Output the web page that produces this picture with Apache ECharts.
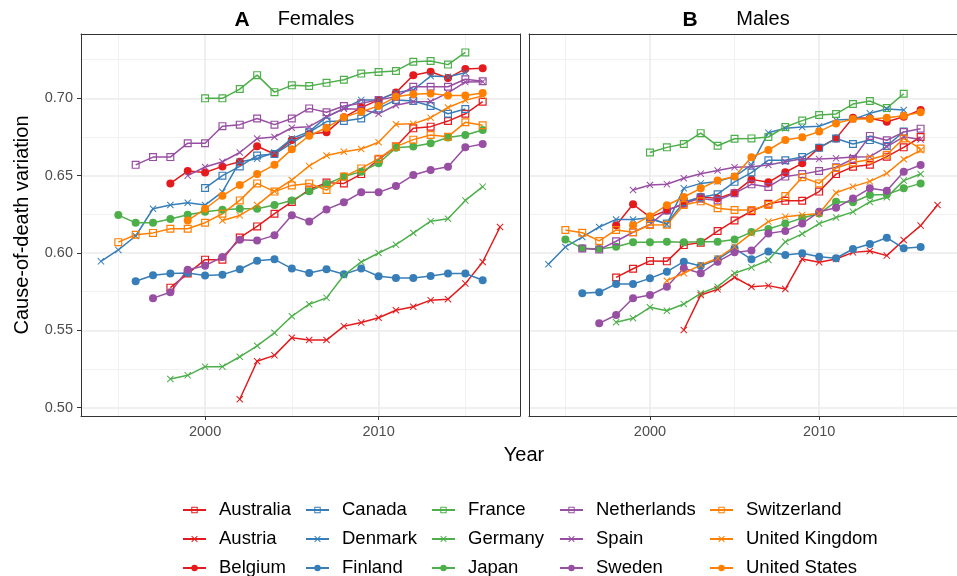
<!DOCTYPE html>
<html><head><meta charset="utf-8">
<script src="https://cdn.jsdelivr.net/npm/echarts@6/dist/echarts.min.js"></script>
<style>html,body{margin:0;padding:0;background:#fff}#c{width:957px;height:576px}</style>
</head><body><div id="c"></div>
<script>
const countries = ['Australia','Austria','Belgium','Canada','Denmark','Finland','France','Germany','Japan','Netherlands','Spain','Sweden','Switzerland','United Kingdom','United States'];
const startYear = [1998, 2002, 1998, 2000, 1994, 1996, 2000, 1998, 1995, 1996, 1999, 1997, 1995, 2001, 1999];
const xTicks = [2000, 2010];
const xMinorTicks = [1995, 2005, 2015];
const yTicks = [0.50, 0.55, 0.60, 0.65, 0.70];
const yMinorTicks = [0.525, 0.575, 0.625, 0.675, 0.725];

// Females (panel A)
const femaleAustralia = [0.5776, 0.5867, 0.5957, 0.5957, 0.610, 0.6172, 0.6254, 0.633, 0.641, 0.6455, 0.645, 0.651, 0.6606, 0.6688, 0.6806, 0.6817, 0.6853, 0.690, 0.6978];
const femaleAustria = [0.5054, 0.530, 0.5338, 0.5452, 0.5437, 0.5437, 0.5527, 0.555, 0.5581, 0.563, 0.5652, 0.5695, 0.5701, 0.5802, 0.5942, 0.6168];
const femaleBelgium = [0.645, 0.653, 0.652, 0.656, 0.659, 0.669, 0.664, 0.673, 0.677, 0.678, 0.6877, 0.694, 0.699, 0.7037, 0.7149, 0.7172, 0.7131, 0.719, 0.7194];
const femaleCanada = [0.642, 0.650, 0.656, 0.663, 0.664, 0.671, 0.678, 0.685, 0.6853, 0.687, 0.6935, 0.699, 0.6983, 0.695, 0.690, 0.6931];
const femaleDenmark = [0.5946, 0.602, 0.611, 0.6286, 0.631, 0.6325, 0.631, 0.6395, 0.659, 0.661, 0.665, 0.674, 0.6785, 0.688, 0.6935, 0.699, 0.699, 0.7037, 0.7054, 0.7144, 0.714, 0.7166];
const femaleFinland = [0.5817, 0.5856, 0.5867, 0.5871, 0.5854, 0.586, 0.5895, 0.595, 0.5959, 0.5899, 0.5871, 0.5895, 0.5862, 0.5899, 0.585, 0.5839, 0.5839, 0.5852, 0.5867, 0.5867, 0.5824];
const femaleFrance = [0.700, 0.700, 0.706, 0.715, 0.704, 0.7084, 0.708, 0.710, 0.712, 0.716, 0.717, 0.7177, 0.7237, 0.7241, 0.7218, 0.7297];
const femaleGermany = [0.5185, 0.5209, 0.5265, 0.5265, 0.5329, 0.540, 0.5484, 0.5591, 0.5669, 0.571, 0.5856, 0.5942, 0.600, 0.6054, 0.6129, 0.6206, 0.6221, 0.634, 0.6429];
const femaleJapan = [0.6245, 0.6195, 0.6195, 0.622, 0.6247, 0.6266, 0.628, 0.6286, 0.6286, 0.631, 0.634, 0.640, 0.6446, 0.6494, 0.6526, 0.658, 0.668, 0.6688, 0.671, 0.6747, 0.6763, 0.6795];
const femaleNetherlands = [0.657, 0.662, 0.662, 0.671, 0.671, 0.682, 0.683, 0.687, 0.683, 0.687, 0.6935, 0.691, 0.695, 0.6968, 0.699, 0.701, 0.7075, 0.7075, 0.7075, 0.7123, 0.711];
const femaleSpain = [0.650, 0.6556, 0.659, 0.665, 0.674, 0.675, 0.681, 0.6817, 0.688, 0.6933, 0.693, 0.690, 0.6955, 0.6978, 0.698, 0.7035, 0.7105, 0.7108];
const femaleSweden = [0.5708, 0.5746, 0.5892, 0.5918, 0.5974, 0.6086, 0.608, 0.6114, 0.6244, 0.6203, 0.6282, 0.6328, 0.6392, 0.6392, 0.6433, 0.6504, 0.6537, 0.6558, 0.6683, 0.6705];
const femaleSwitzerland = [0.607, 0.6118, 0.613, 0.6157, 0.6157, 0.6196, 0.6254, 0.634, 0.645, 0.6397, 0.6437, 0.645, 0.6407, 0.6494, 0.6547, 0.661, 0.6688, 0.6733, 0.6763, 0.6752, 0.6845, 0.6826];
const femaleUK = [0.621, 0.6243, 0.631, 0.640, 0.6472, 0.6563, 0.663, 0.6655, 0.6672, 0.6716, 0.6832, 0.6835, 0.6875, 0.6941, 0.6987, 0.7016];
const femaleUS = [0.621, 0.6286, 0.637, 0.644, 0.651, 0.657, 0.667, 0.6758, 0.681, 0.6877, 0.6914, 0.695, 0.701, 0.7027, 0.7032, 0.7018, 0.7018, 0.7035];

// Males (panel B)
const maleAustralia = [0.5842, 0.5898, 0.5949, 0.5946, 0.6051, 0.6067, 0.6142, 0.621, 0.627, 0.6318, 0.6337, 0.6338, 0.6397, 0.651, 0.6558, 0.6571, 0.6623, 0.6683, 0.675];
const maleAustria = [0.5502, 0.5728, 0.5765, 0.5843, 0.5782, 0.5789, 0.5767, 0.5961, 0.594, 0.5961, 0.6004, 0.6013, 0.5983, 0.6084, 0.6177, 0.631];
const maleBelgium = [0.618, 0.6315, 0.6232, 0.6275, 0.6318, 0.6364, 0.6353, 0.639, 0.6476, 0.6457, 0.6522, 0.658, 0.6681, 0.6741, 0.6875, 0.6871, 0.6849, 0.6881, 0.6925];
const maleCanada = [0.622, 0.619, 0.633, 0.636, 0.638, 0.646, 0.652, 0.660, 0.660, 0.662, 0.668, 0.674, 0.6705, 0.673, 0.6692, 0.6785];
const maleDenmark = [0.5927, 0.6039, 0.6103, 0.6168, 0.6217, 0.6217, 0.6228, 0.6185, 0.6418, 0.645, 0.6463, 0.6494, 0.657, 0.6778, 0.6806, 0.6815, 0.682, 0.686, 0.6864, 0.6903, 0.6931, 0.6925];
const maleFinland = [0.5739, 0.5746, 0.58, 0.58, 0.5836, 0.5879, 0.5944, 0.5916, 0.5959, 0.603, 0.5959, 0.6009, 0.5987, 0.5998, 0.5976, 0.5966, 0.6026, 0.6058, 0.6099, 0.603, 0.6039];
const maleFrance = [0.665, 0.6683, 0.6705, 0.6775, 0.6693, 0.6739, 0.6741, 0.675, 0.6815, 0.6856, 0.6892, 0.6899, 0.6963, 0.6983, 0.6937, 0.703];
const maleGermany = [0.5552, 0.5578, 0.5649, 0.5627, 0.567, 0.5739, 0.5782, 0.5869, 0.5907, 0.5955, 0.6072, 0.6124, 0.619, 0.623, 0.6266, 0.633, 0.636, 0.6468, 0.6511];
const maleJapan = [0.6088, 0.603, 0.6026, 0.6041, 0.6069, 0.6069, 0.6073, 0.6069, 0.6073, 0.6073, 0.6087, 0.6135, 0.6155, 0.619, 0.6226, 0.6255, 0.6332, 0.6328, 0.6375, 0.6378, 0.6418, 0.645];
const maleNetherlands = [0.6029, 0.6022, 0.6076, 0.6134, 0.6185, 0.6275, 0.632, 0.6353, 0.634, 0.6386, 0.6444, 0.6427, 0.6494, 0.651, 0.653, 0.6555, 0.6608, 0.6757, 0.6729, 0.6782, 0.6804];
const maleSpain = [0.6407, 0.644, 0.6445, 0.6483, 0.6513, 0.6533, 0.6555, 0.6558, 0.6569, 0.659, 0.6609, 0.6607, 0.6612, 0.6621, 0.6623, 0.6688, 0.6751, 0.6734];
const maleSweden = [0.5545, 0.5599, 0.5707, 0.5728, 0.5782, 0.5901, 0.5869, 0.5944, 0.6004, 0.6016, 0.6126, 0.6143, 0.619, 0.6266, 0.6292, 0.6353, 0.6418, 0.6403, 0.6526, 0.6569];
const maleSwitzerland = [0.6149, 0.6131, 0.6078, 0.6149, 0.6134, 0.6181, 0.6183, 0.631, 0.6334, 0.6289, 0.6278, 0.6278, 0.631, 0.6368, 0.649, 0.645, 0.655, 0.6585, 0.6605, 0.6635, 0.674, 0.6675];
const maleUK = [0.5821, 0.5869, 0.5922, 0.5966, 0.6041, 0.6127, 0.6203, 0.6235, 0.6246, 0.6256, 0.639, 0.6429, 0.6463, 0.6515, 0.6606, 0.6664];
const maleUS = [0.618, 0.6238, 0.6309, 0.6362, 0.6418, 0.6469, 0.6494, 0.6619, 0.6666, 0.6731, 0.6748, 0.6785, 0.6838, 0.6866, 0.6866, 0.6875, 0.6888, 0.691];

const femaleValues = [femaleAustralia, femaleAustria, femaleBelgium, femaleCanada, femaleDenmark, femaleFinland, femaleFrance, femaleGermany, femaleJapan, femaleNetherlands, femaleSpain, femaleSweden, femaleSwitzerland, femaleUK, femaleUS];
const maleValues = [maleAustralia, maleAustria, maleBelgium, maleCanada, maleDenmark, maleFinland, maleFrance, maleGermany, maleJapan, maleNetherlands, maleSpain, maleSweden, maleSwitzerland, maleUK, maleUS];

// styles
const palette = ['#E41A1C', '#377EB8', '#4DAF4A', '#984EA3', '#FF7F00'];
const SQ = 'path://M0,0H10V10H0ZM1.5,1.5V8.5H8.5V1.5Z';
const CROSS = 'path://M1,0L5,4L9,0L10,1L6,5L10,9L9,10L5,6L1,10L0,9L4,5L0,1Z';
const shapes = [SQ, CROSS, 'circle'];
const shapeSize = [8, 7, 8];
const FONT = 'Liberation Sans, Arial, Helvetica, sans-serif';
const BORDER = {show: true, lineStyle: {color: '#333', width: 1}};

const chart = echarts.init(document.getElementById('c'), null, {renderer: 'canvas'});

const xMin = 1992.85, xMax = 2018.15, yMin = 0.4946, yMax = 0.7416;
const grids = [
  {left: 81, top: 34, width: 439, height: 382},
  {left: 529, top: 34, width: 438, height: 382}
];
const majorLine = {show: true, lineStyle: {color: '#EBEBEB', width: 1.6}};
const minorLine = {show: true, lineStyle: {color: '#F1F1F1', width: 1}};
const noLine = {show: false};

const xAxes = [], yAxes = [];
// 0-1: major axes with labels
[0, 1].forEach(g => {
  xAxes.push({type: 'value', gridIndex: g, min: xMin, max: xMax, position: 'bottom', z: 1,
    axisLine: BORDER, splitLine: majorLine,
    axisTick: {show: true, length: 4, lineStyle: {color: '#333', width: 1}, customValues: xTicks},
    axisLabel: {show: true, customValues: xTicks, color: '#4D4D4D', fontSize: 14.5, fontFamily: FONT, margin: 8,
      formatter: v => String(Math.round(v))}});
  yAxes.push({type: 'value', gridIndex: g, min: yMin, max: yMax, position: 'left', z: 1,
    axisLine: BORDER, splitLine: majorLine,
    axisTick: {show: g === 0, length: 4, lineStyle: {color: '#333', width: 1}, customValues: yTicks},
    axisLabel: {show: g === 0, customValues: yTicks, color: '#4D4D4D', fontSize: 14.5, fontFamily: FONT, margin: 8,
      formatter: v => v.toFixed(2)}});
});
// 2-3: minor grid lines
[0, 1].forEach(g => {
  xAxes.push({type: 'value', gridIndex: g, min: xMin, max: xMax, position: 'bottom', z: 0,
    axisLine: noLine, splitLine: minorLine,
    axisTick: {show: false, customValues: xMinorTicks}, axisLabel: {show: false, customValues: xMinorTicks}});
  yAxes.push({type: 'value', gridIndex: g, min: yMin, max: yMax, position: 'left', z: 0,
    axisLine: noLine, splitLine: minorLine,
    axisTick: {show: false, customValues: yMinorTicks}, axisLabel: {show: false, customValues: yMinorTicks}});
});
// 4-5: top and right panel borders
[0, 1].forEach(g => {
  xAxes.push({type: 'value', gridIndex: g, min: xMin, max: xMax, position: 'top', z: 3,
    axisLine: BORDER, splitLine: noLine, axisTick: {show: false}, axisLabel: {show: false}});
  yAxes.push({type: 'value', gridIndex: g, min: yMin, max: yMax, position: 'right', z: 3,
    axisLine: BORDER, splitLine: noLine, axisTick: {show: false}, axisLabel: {show: false}});
});

const series = [];
[femaleValues, maleValues].forEach((panel, p) => {
  panel.forEach((vals, i) => {
    const color = palette[Math.floor(i / 3)];
    const k = i % 3;
    series.push({
      type: 'line', name: countries[i], xAxisIndex: p, yAxisIndex: p,
      data: vals.map((v, j) => [startYear[i] + j, v]),
      symbol: shapes[k], symbolSize: shapeSize[k], showSymbol: true,
      lineStyle: {color: color, width: 1.5},
      itemStyle: {color: color},
      emphasis: {disabled: true},
      animation: false
    });
  });
});

const legendLeft = [182, 305, 431, 559, 709];
const legendTop = [499, 528, 557];
const legends = countries.map((name, i) => ({
  data: [name],
  orient: 'vertical', left: legendLeft[Math.floor(i / 3)], top: legendTop[i % 3], padding: 0,
  itemWidth: 23, itemHeight: 8, itemGap: 0, selectedMode: false,
  textStyle: {fontSize: 18.5, color: '#000', fontFamily: FONT, lineHeight: 22, padding: [0, 0, 0, 8]}
}));

const txt = (text, x, y, size, weight, rot) => ({
  type: 'text', x: x, y: y, rotation: rot || 0, silent: true,
  style: {text: text, fontSize: size, fontWeight: weight || 'normal', fontFamily: FONT, fill: '#000', align: 'center', verticalAlign: 'middle'}
});

chart.setOption({
  animation: false,
  grid: grids,
  xAxis: xAxes,
  yAxis: yAxes,
  legend: legends,
  series: series,
  graphic: [
    txt('A', 242, 20, 21, 'bold'),
    txt('Females', 316, 19, 20),
    txt('B', 690, 20, 21, 'bold'),
    txt('Males', 763, 19, 20),
    txt('Year', 524, 455, 20),
    txt('Cause-of-death variation', 22, 225, 20, 'normal', Math.PI / 2)
  ]
});
</script></body></html>
